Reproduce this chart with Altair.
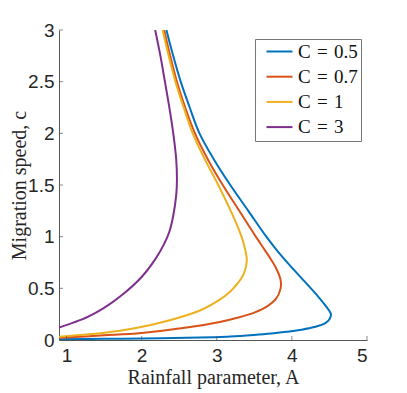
import altair as alt
import pandas as pd

# Curve data (migration speed c, rainfall parameter A)
c_05 = [0.007, 0.011, 0.015, 0.021, 0.027, 0.033, 0.048, 0.062, 0.08, 0.1, 0.125, 0.16, 0.2, 0.25, 0.32, 0.42, 0.55, 0.7, 0.85, 1.0, 1.25, 1.5, 1.75, 2.0, 2.25, 2.5, 2.75, 3.0]
A_05 = [0.9, 1.5, 2.0, 2.6, 2.95, 3.18, 3.49, 3.72, 3.93, 4.13, 4.3, 4.44, 4.5, 4.52, 4.46, 4.35, 4.19, 4.0, 3.82, 3.66, 3.42, 3.18, 2.96, 2.77, 2.64, 2.52, 2.42, 2.33]

c_07 = [0.022, 0.045, 0.068, 0.12, 0.175, 0.22, 0.265, 0.32, 0.4, 0.5, 0.58, 0.68, 0.77, 0.87, 1.0, 1.25, 1.5, 1.75, 2.0, 2.25, 2.5, 2.75, 3.0]
A_07 = [0.9, 1.5, 2.0, 2.6, 3.04, 3.3, 3.5, 3.66, 3.79, 3.85, 3.85, 3.8, 3.73, 3.64, 3.52, 3.30, 3.08, 2.88, 2.71, 2.58, 2.47, 2.38, 2.30]

c_1 = [0.032, 0.055, 0.09, 0.15, 0.24, 0.3, 0.39, 0.47, 0.55, 0.64, 0.77, 0.87, 1.0, 1.13, 1.26, 1.5, 1.75, 2.0, 2.25, 2.5, 2.75, 3.0]
A_1 = [0.9, 1.3, 1.71, 2.15, 2.6, 2.82, 3.04, 3.18, 3.28, 3.36, 3.40, 3.38, 3.33, 3.26, 3.18, 3.02, 2.84, 2.68, 2.56, 2.45, 2.36, 2.28]

c_3 = [0.12, 0.17, 0.226, 0.31, 0.43, 0.61, 0.78, 0.93, 1.05, 1.2, 1.4, 1.55, 1.75, 1.95, 2.2, 2.5, 2.75, 3.0]
A_3 = [0.9, 1.1, 1.29, 1.5, 1.73, 2.0, 2.18, 2.3, 2.37, 2.42, 2.46, 2.47, 2.46, 2.43, 2.38, 2.31, 2.25, 2.18]

series_labels = ["C\u2004=\u20040.5", "C\u2004=\u20040.7", "C\u2004=\u20041", "C\u2004=\u20043"]
series_colors = ["#0072BD", "#D95319", "#EDB120", "#7E2F8E"]

x_ticks = [1, 2, 3, 4, 5]
y_ticks = [0, 0.5, 1, 1.5, 2, 2.5, 3]

rows = []
for lab, cs, As in zip(series_labels, [c_05, c_07, c_1, c_3], [A_05, A_07, A_1, A_3]):
    for i, (c, a) in enumerate(zip(cs, As)):
        rows.append({"series": lab, "c": c, "A": a, "i": i})
df = pd.DataFrame(rows)

W, H = 308, 310
axis_col = "#555555"
text_col = "#262626"

xscale = alt.Scale(domain=[0.9, 5], nice=False)
yscale = alt.Scale(domain=[0, 3], nice=False)

lines = alt.Chart(df).mark_line(strokeWidth=2, interpolate="catmull-rom", clip=True).encode(
    x=alt.X("A:Q", scale=xscale,
            axis=alt.Axis(values=x_ticks, title="Rainfall parameter, A", format="~g")),
    y=alt.Y("c:Q", scale=yscale,
            axis=alt.Axis(values=y_ticks, title="Migration speed, c", format="~g",
                          titleX=-40, titleY=H / 2, titleBaseline="middle", titleAlign="center")),
    color=alt.Color("series:N",
                    scale=alt.Scale(domain=series_labels, range=series_colors),
                    legend=alt.Legend(title=None, orient="none", legendX=196, legendY=9,
                                      symbolType="M-2,0H2", symbolSize=169, symbolStrokeWidth=2,
                                      symbolOffset=12, labelOffset=9,
                                      labelFont="Liberation Serif", labelFontSize=19,
                                      labelColor="#111", rowPadding=5.2, padding=3,
                                      strokeColor="#777", fillColor="white")),
    order="i:Q",
)

xt = alt.Chart(pd.DataFrame({"A": x_ticks})).mark_tick(
    orient="vertical", size=4, thickness=1, color=axis_col).encode(
    x=alt.X("A:Q", scale=xscale), y=alt.value(H - 2))

yt = alt.Chart(pd.DataFrame({"c": y_ticks})).mark_tick(
    orient="horizontal", size=4, thickness=1, color=axis_col).encode(
    y=alt.Y("c:Q", scale=yscale), x=alt.value(2))

chart = alt.layer(lines, xt, yt).properties(
    width=W, height=H,
    autosize=alt.AutoSizeParams(type="none"),
    padding={"left": 51, "top": 22, "right": 30, "bottom": 53},
).configure_view(stroke=None).configure_axis(
    domainColor=axis_col, tickSize=0, grid=False,
    labelFont="Liberation Sans", labelFontSize=19, labelColor=text_col,
    titleFont="Liberation Serif", titleFontSize=20, titleFontWeight="normal", titleColor=text_col,
).configure_axisX(labelPadding=6, titlePadding=2).configure_axisY(labelPadding=5)

chart.save("out.html", embed_options={"renderer": "svg", "actions": False})
